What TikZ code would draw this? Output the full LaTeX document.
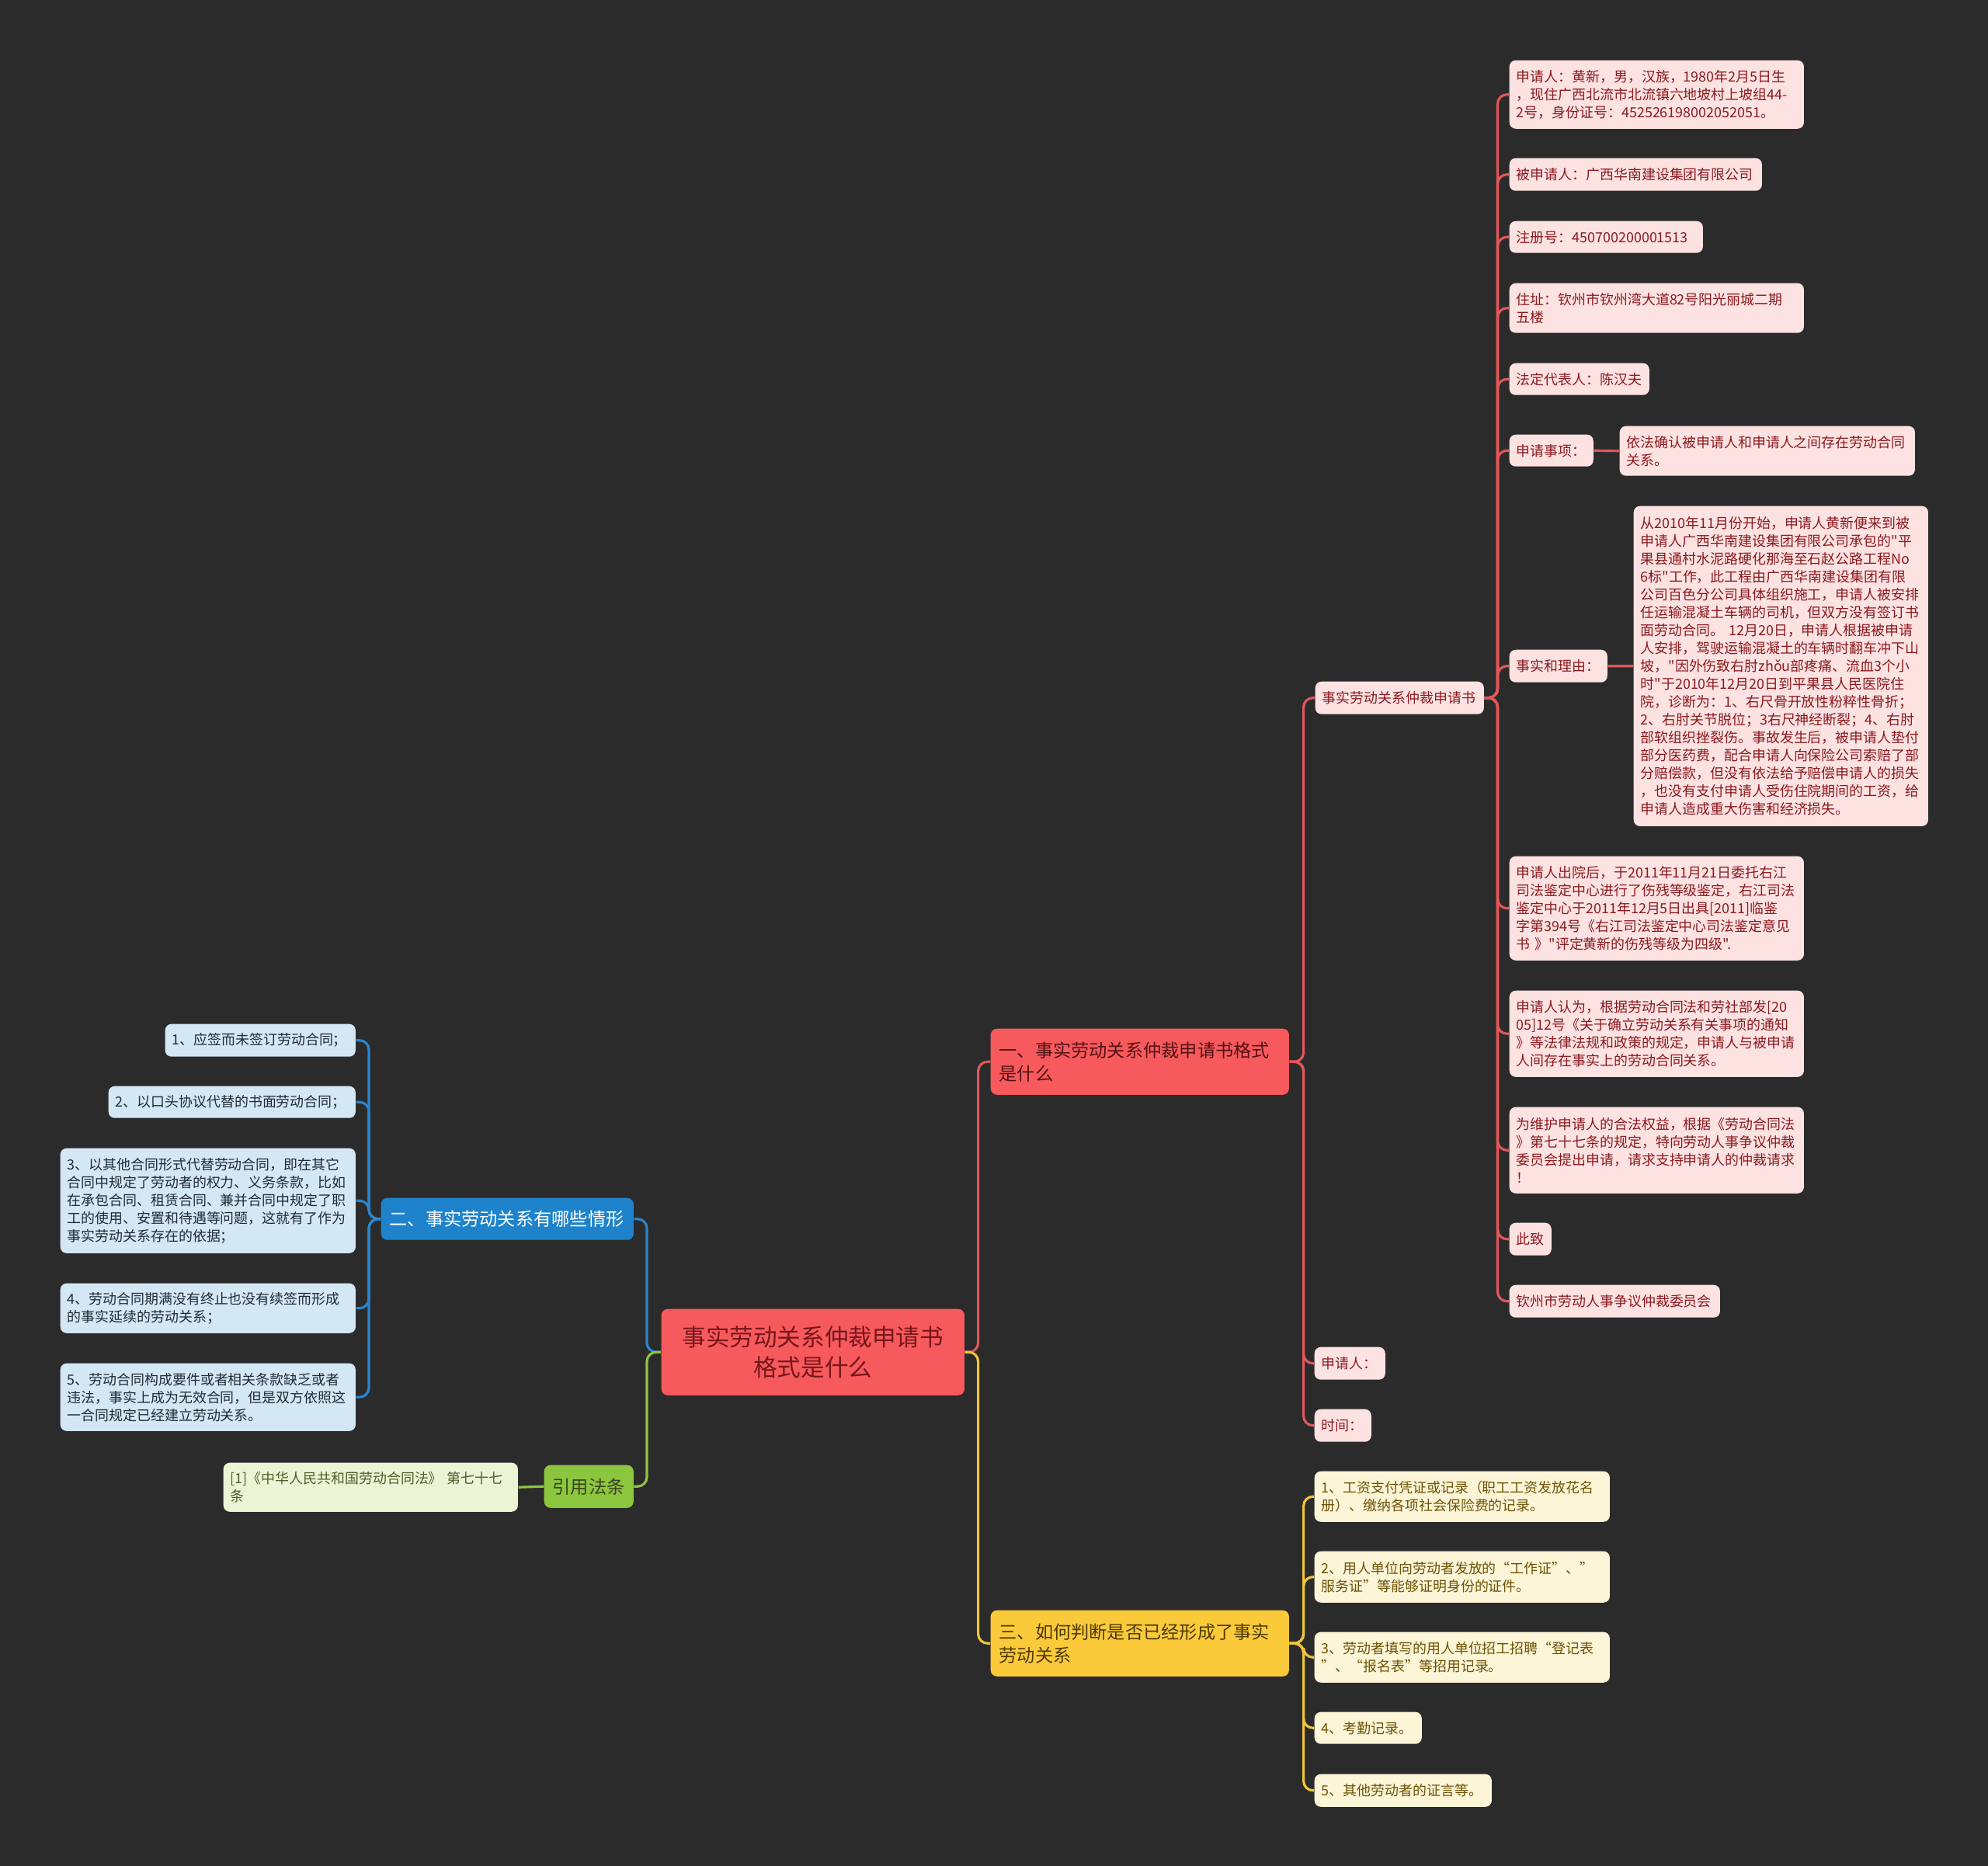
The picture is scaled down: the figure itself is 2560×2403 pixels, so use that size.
\documentclass[tikz,border=0pt]{standalone}
\usepackage{fontspec}
\setmainfont{Noto Sans CJK SC}[Ligatures=TeXOff]
\definecolor{bgdark}     {HTML}{2B2B2B}
\definecolor{mapred}     {HTML}{F75A5C}
\definecolor{redline}    {HTML}{E2575A}
\definecolor{lightred}   {HTML}{FDE2E2}
\definecolor{textred}    {HTML}{8B1A1F}
\definecolor{mapyellow}  {HTML}{FBCA3A}
\definecolor{yellowline} {HTML}{F0C53C}
\definecolor{lightyellow}{HTML}{FDF5D8}
\definecolor{textyellow} {HTML}{6E5305}
\definecolor{mapblue}    {HTML}{1E83CB}
\definecolor{blueline}   {HTML}{2A87CF}
\definecolor{lightblue}  {HTML}{D4E7F5}
\definecolor{textblue}   {HTML}{1F2B36}
\definecolor{mapgreen}   {HTML}{8CC63F}
\definecolor{lightgreen} {HTML}{EBF5D6}
\definecolor{textgreen}  {HTML}{4E5E2A}
\newcommand\leafsize{\fontsize{5.1pt}{6.55pt}\selectfont}
\newcommand\branchsize{\fontsize{6.6pt}{8.5pt}\selectfont}
\newcommand\rootsize{\fontsize{8.7pt}{11.1pt}\selectfont}
\begin{document}
\begin{tikzpicture}[
  x=0.01cm, y=-0.01cm,
  every node/.style={anchor=north west,inner ysep=0pt,rounded corners=0.08cm},
  sz/.style 2 args={text width=#1cm,minimum height=#2cm},
  root/.style={fill=mapred,text=textred!85!black,font=\rootsize,align=center,inner xsep=0.12cm},
  branch/.style={font=\branchsize,align=left,inner xsep=0.11cm},
  leaf/.style={font=\leafsize,align=left,inner xsep=0.09cm},
  redbr/.style={branch,fill=mapred,text=textred!60!black},
  yelbr/.style={branch,fill=mapyellow,text=textyellow!70!black},
  blubr/.style={branch,fill=mapblue,text=white},
  grnbr/.style={branch,fill=mapgreen,text=textgreen!70!black},
  redleaf/.style={leaf,fill=lightred,text=textred},
  yelleaf/.style={leaf,fill=lightyellow,text=textyellow},
  bluleaf/.style={leaf,fill=lightblue,text=textblue},
  grnleaf/.style={leaf,fill=lightgreen,text=textgreen},
  redln/.style={draw=redline,line width=0.9pt,rounded corners=0.12cm},
  yelln/.style={draw=yellowline,line width=0.9pt,rounded corners=0.12cm},
  bluln/.style={draw=blueline,line width=0.9pt,rounded corners=0.12cm},
  grnln/.style={draw=mapgreen,line width=0.9pt,rounded corners=0.12cm},
]

%% ── Background ───────────────────────────────────────────────────────────
\fill[bgdark] (0,0) rectangle (2560,2403);
\useasboundingbox (0,0) rectangle (2560,2403);

%% ── Root ─────────────────────────────────────────────────────────────────
\node[root,sz={3.66}{1.11}] (root) at (851,1685) {事实劳动关系仲裁申请书\\格式是什么};

%% ── Branches ─────────────────────────────────────────────────────────────
\node[redbr,sz={3.62}{0.85}] (s1) at (1275,1324) {一、事实劳动关系仲裁申请书格式\\是什么};
\node[blubr,sz={3.03}{0.54}] (s2) at (490,1542) {二、事实劳动关系有哪些情形};
\node[yelbr,sz={3.62}{0.85}] (s3) at (1275,2073) {三、如何判断是否已经形成了事实\\劳动关系};
\node[grnbr,sz={0.93}{0.55}] (s4) at (700,1886) {引用法条};

%% ── Branch one: the form ─────────────────────────────────────────────────
\node[redleaf,sz={1.99}{0.42}] (r0) at (1693,877) {事实劳动关系仲裁申请书};
\node[redleaf,sz={0.73}{0.42}] (r1) at (1692,1734) {申请人：};
\node[redleaf,sz={0.55}{0.42}] (r2) at (1692,1814) {时间：};

\node[redleaf,sz={3.61}{0.88}] (a1) at (1943,77)
  {申请人：黄新，男，汉族，1980年2月5日生\\，现住广西北流市北流镇六地坡村上坡组44-\\2号，身份证号：452526198002052051。};
\node[redleaf,sz={3.07}{0.42}] (a2) at (1943,203) {被申请人：广西华南建设集团有限公司};
\node[redleaf,sz={2.31}{0.41}] (a3) at (1943,284) {注册号：450700200001513};
\node[redleaf,sz={3.61}{0.64}] (a4) at (1943,364) {住址：钦州市钦州湾大道82号阳光丽城二期\\五楼};
\node[redleaf,sz={1.62}{0.41}] (a5) at (1943,467) {法定代表人：陈汉夫};
\node[redleaf,sz={0.90}{0.41}] (a6) at (1943,559) {申请事项：};
\node[redleaf,sz={3.62}{0.64}] (a6c) at (2085,548) {依法确认被申请人和申请人之间存在劳动合同\\关系。};
\node[redleaf,sz={1.08}{0.42}] (a7) at (1943,836) {事实和理由：};
\node[redleaf,sz={3.61}{4.12}] (a7c) at (2103,651)
  {从2010年11月份开始，申请人黄新便来到被\\申请人广西华南建设集团有限公司承包的"平\\果县通村水泥路硬化那海至石赵公路工程No\\6标"工作，此工程由广西华南建设集团有限\\公司百色分公司具体组织施工，申请人被安排\\任运输混凝土车辆的司机，但双方没有签订书\\面劳动合同。 12月20日，申请人根据被申请\\人安排，驾驶运输混凝土的车辆时翻车冲下山\\坡，"因外伤致右肘zhǒu部疼痛、流血3个小\\时"于2010年12月20日到平果县人民医院住\\院，诊断为：1、右尺骨开放性粉粹性骨折；\\2、右肘关节脱位；3右尺神经断裂；4、右肘\\部软组织挫裂伤。事故发生后，被申请人垫付\\部分医药费，配合申请人向保险公司索赔了部\\分赔偿款，但没有依法给予赔偿申请人的损失\\，也没有支付申请人受伤住院期间的工资，给\\申请人造成重大伤害和经济损失。};
\node[redleaf,sz={3.61}{1.34}] (a8) at (1943,1102)
  {申请人出院后，于2011年11月21日委托右江\\司法鉴定中心进行了伤残等级鉴定，右江司法\\鉴定中心于2011年12月5日出具[2011]临鉴\\字第394号《右江司法鉴定中心司法鉴定意见\\书 》"评定黄新的伤残等级为四级".};
\node[redleaf,sz={3.61}{1.11}] (a9) at (1943,1275)
  {申请人认为，根据劳动合同法和劳社部发[20\\05]12号《关于确立劳动关系有关事项的通知\\》等法律法规和政策的规定，申请人与被申请\\人间存在事实上的劳动合同关系。};
\node[redleaf,sz={3.61}{1.11}] (a10) at (1943,1425)
  {为维护申请人的合法权益，根据《劳动合同法\\》第七十七条的规定，特向劳动人事争议仲裁\\委员会提出申请，请求支持申请人的仲裁请求\\！};
\node[redleaf,sz={0.36}{0.42}] (a11) at (1943,1574) {此致};
\node[redleaf,sz={2.53}{0.42}] (a12) at (1943,1654) {钦州市劳动人事争议仲裁委员会};

%% ── Branch two: cases ────────────────────────────────────────────────────
\node[bluleaf,sz={2.27}{0.42}] (b1) at (212,1318) {1、应签而未签订劳动合同；};
\node[bluleaf,sz={3.00}{0.41}] (b2) at (139,1398) {2、以口头协议代替的书面劳动合同；};
\node[bluleaf,sz={3.62}{1.35}] (b3) at (77,1478)
  {3、以其他合同形式代替劳动合同，即在其它\\合同中规定了劳动者的权力、义务条款，比如\\在承包合同、租赁合同、兼并合同中规定了职\\工的使用、安置和待遇等问题，这就有了作为\\事实劳动关系存在的依据；};
\node[bluleaf,sz={3.62}{0.64}] (b4) at (77,1652)
  {4、劳动合同期满没有终止也没有续签而形成\\的事实延续的劳动关系；};
\node[bluleaf,sz={3.62}{0.87}] (b5) at (77,1755)
  {5、劳动合同构成要件或者相关条款缺乏或者\\违法，事实上成为无效合同，但是双方依照这\\一合同规定已经建立劳动关系。};

%% ── Branch three: evidence ───────────────────────────────────────────────
\node[yelleaf,sz={3.62}{0.65}] (y1) at (1692,1894) {1、工资支付凭证或记录（职工工资发放花名\\册）、缴纳各项社会保险费的记录。};
\node[yelleaf,sz={3.62}{0.66}] (y2) at (1692,1997) {2、用人单位向劳动者发放的“工作证”、”\\服务证”等能够证明身份的证件。};
\node[yelleaf,sz={3.62}{0.65}] (y3) at (1692,2101) {3、劳动者填写的用人单位招工招聘“登记表\\”、“报名表”等招用记录。};
\node[yelleaf,sz={1.20}{0.41}] (y4) at (1692,2204) {4、考勤记录。};
\node[yelleaf,sz={2.10}{0.42}] (y5) at (1692,2284) {5、其他劳动者的证言等。};

%% ── Cited law ────────────────────────────────────────────────────────────
\node[grnleaf,sz={3.61}{0.63}] (g1) at (287,1883) {[1]《中华人民共和国劳动合同法》 第七十七\\条};

%% ── Connections ──────────────────────────────────────────────────────────
\draw[redln] (root.east) -- ++(17,0) |- (s1.west);
\draw[yelln] (root.east) -- ++(17,0) |- (s3.west);
\draw[bluln] (root.west) -- ++(-18,0) |- (s2.east);
\draw[grnln] (root.west) -- ++(-18,0) |- (s4.east);

\foreach \c in {r0,r1,r2}
  \draw[redln] (s1.east) -- ++(18,0) |- (\c.west);
\foreach \c in {a1,a2,a3,a4,a5,a6,a7,a8,a9,a10,a11,a12}
  \draw[redln] (r0.east) -- ++(17,0) |- (\c.west);
\draw[redln] (a6.east) -- (a6c.west);
\draw[redln] (a7.east) -- (a7c.west);

\foreach \c in {b1,b2,b3,b4,b5}
  \draw[bluln] (s2.west) -- ++(-15,0) |- (\c.east);

\foreach \c in {y1,y2,y3,y4,y5}
  \draw[yelln] (s3.east) -- ++(18,0) |- (\c.west);

\draw[grnln] (s4.west) -- (g1.east);

\end{tikzpicture}
\end{document}
